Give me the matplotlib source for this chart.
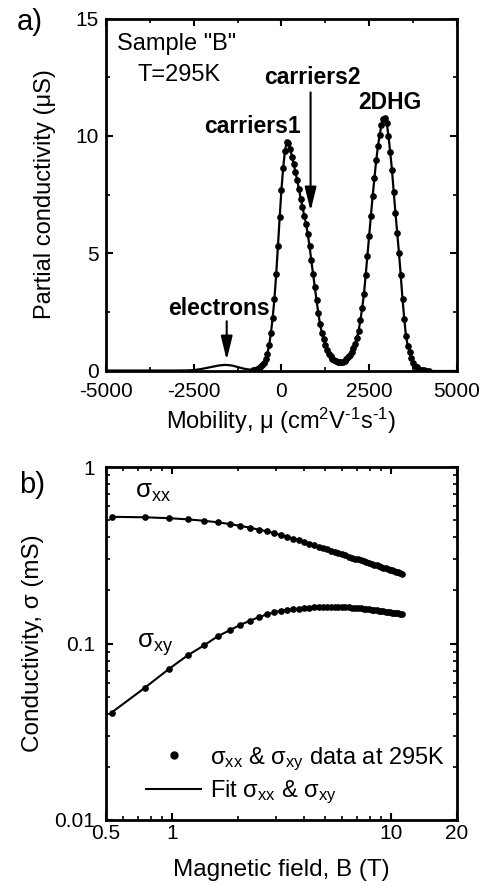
import matplotlib
matplotlib.use("Agg")
import matplotlib.pyplot as plt
from matplotlib.lines import Line2D
from matplotlib.ticker import MultipleLocator, LogLocator, NullFormatter

plt.rcParams['font.family'] = ['Liberation Sans', 'DejaVu Sans']
plt.rcParams['mathtext.fontset'] = 'custom'
plt.rcParams['mathtext.rm'] = 'Liberation Sans'
plt.rcParams['mathtext.it'] = 'Liberation Sans:italic'
plt.rcParams['mathtext.default'] = 'regular'

# a) mobility spectrum, sample "B", 295 K
mu_main = [-800, -750, -700, -650, -600, -550, -500, -450, -400, -350,
           -300, -250, -200, -150, -100, -50, 0, 50, 100, 150,
           200, 250, 300, 350, 400, 450, 500, 550, 600, 650,
           700, 750, 800, 850, 900, 950, 1000, 1050, 1100, 1150,
           1200, 1250, 1300, 1350, 1400, 1450, 1500, 1550, 1600, 1650,
           1700, 1750, 1800, 1850, 1900, 1950, 2000, 2050, 2100, 2150,
           2200, 2250, 2300, 2350, 2400, 2450, 2500, 2550, 2600, 2650,
           2700, 2750, 2800, 2850, 2900, 2950, 3000, 3050, 3100, 3150,
           3200, 3250, 3300, 3350, 3400, 3450, 3500, 3550, 3600, 3650,
           3700, 3750, 3800, 3850, 3900, 3950, 4000, 4050, 4100, 4150, 4200]
sig_main = [0.02, 0.03, 0.05, 0.08, 0.14, 0.22, 0.33, 0.47, 0.72, 1.08,
            1.60, 2.25, 3.05, 4.10, 5.30, 6.55, 7.70, 8.65, 9.35, 9.75,
            9.70, 9.45, 9.12, 8.78, 8.45, 8.10, 7.72, 7.32, 6.95, 6.60,
            6.25, 5.82, 5.30, 4.70, 4.12, 3.57, 3.00, 2.45, 1.98, 1.62,
            1.33, 1.08, 0.88, 0.72, 0.60, 0.51, 0.45, 0.41, 0.38, 0.37,
            0.37, 0.38, 0.42, 0.48, 0.56, 0.66, 0.78, 0.95, 1.15, 1.38,
            1.70, 2.15, 2.65, 3.25, 4.05, 4.90, 5.75, 6.60, 7.45, 8.20,
            8.95, 9.55, 10.05, 10.45, 10.72, 10.78, 10.55, 10.00, 9.30, 8.55,
            7.60, 6.70, 5.85, 5.00, 4.05, 3.05, 2.20, 1.45, 1.05, 0.78,
            0.52, 0.33, 0.21, 0.13, 0.07, 0.04, 0.02, 0.01, 0.0, 0.0, 0.0]
mu_elec = [-5000, -4000, -3000, -2700, -2600, -2500, -2400, -2300, -2200,
           -2100, -2000, -1900, -1800, -1700, -1600, -1500, -1400, -1300,
           -1200, -1100, -1000, -900, -800]
sig_elec = [0.0, 0.0, 0.0, 0.005, 0.01, 0.02, 0.04, 0.06, 0.09,
            0.12, 0.15, 0.18, 0.21, 0.23, 0.24, 0.23, 0.21, 0.17,
            0.13, 0.09, 0.06, 0.04, 0.02]
mu_tail = [4200, 5000]
sig_tail = [0.0, 0.0]

# b) sigma_xx, sigma_xy vs field (mS)
B = [0.53, 0.75, 0.97, 1.18, 1.40, 1.62, 1.84, 2.05, 2.27, 2.49,
     2.71, 2.93, 3.14, 3.36, 3.58, 3.80, 4.01, 4.23, 4.45, 4.67,
     4.89, 5.10, 5.32, 5.54, 5.76, 5.97, 6.19, 6.41, 6.63, 6.85,
     7.06, 7.28, 7.50, 7.72, 7.93, 8.15, 8.37, 8.59, 8.81, 9.02,
     9.24, 9.46, 9.68, 9.89, 10.11, 10.33, 10.55, 10.77, 10.98, 11.20]
sxx = [0.522, 0.519, 0.513, 0.505, 0.496, 0.486, 0.475, 0.464, 0.453, 0.442,
       0.432, 0.422, 0.412, 0.403, 0.393, 0.384, 0.376, 0.368, 0.361, 0.354,
       0.347, 0.341, 0.336, 0.330, 0.325, 0.320, 0.316, 0.311, 0.307, 0.303,
       0.300, 0.296, 0.293, 0.289, 0.286, 0.283, 0.280, 0.277, 0.274, 0.272,
       0.269, 0.267, 0.264, 0.262, 0.260, 0.257, 0.255, 0.253, 0.251, 0.249]
sxy = [0.0406, 0.0560, 0.0718, 0.0857, 0.0975, 0.1100, 0.1190, 0.1275, 0.1345, 0.1410,
       0.1460, 0.1500, 0.1530, 0.1550, 0.1565, 0.1578, 0.1590, 0.1598, 0.1605, 0.1610,
       0.1614, 0.1616, 0.1617, 0.1616, 0.1614, 0.1611, 0.1607, 0.1603, 0.1598, 0.1592,
       0.1586, 0.1580, 0.1573, 0.1566, 0.1560, 0.1553, 0.1546, 0.1540, 0.1533, 0.1527,
       0.1520, 0.1514, 0.1508, 0.1502, 0.1497, 0.1491, 0.1486, 0.1481, 0.1476, 0.1471]

fig = plt.figure(figsize=(4.84, 8.86), dpi=100)
ax1 = fig.add_axes([0.219, 0.5818, 0.725, 0.3973])
ax2 = fig.add_axes([0.219, 0.0745, 0.725, 0.3984])

for ax in (ax1, ax2):
    for s in ax.spines.values():
        s.set_linewidth(2.0)
    ax.tick_params(which='both', direction='in', top=True, right=True,
                   labelsize=15)
    ax.tick_params(which='major', length=5, width=1.5)
    ax.tick_params(which='minor', length=3, width=1.2)

# --- panel a
ax1.plot(mu_elec, sig_elec, color='k', lw=1.6)
ax1.plot(mu_tail, sig_tail, color='k', lw=1.6)
ax1.plot(mu_main, sig_main, color='k', lw=1.6, marker='o', ms=3.8)
ax1.set_xlim(-5000, 5000)
ax1.set_ylim(0, 15)
ax1.set_xticks([-5000, -2500, 0, 2500, 5000])
ax1.set_xticklabels(['-5000', '-2500', '0', '2500', '5000'])
ax1.xaxis.set_minor_locator(MultipleLocator(1250))
ax1.yaxis.set_major_locator(MultipleLocator(5))
ax1.yaxis.set_minor_locator(MultipleLocator(2.5))
ax1.tick_params(axis='x', pad=8)
ax1.tick_params(axis='y', pad=5)
ax1.set_xlabel("Mobility, μ (cm$^{2}$V$^{\\text{-}1}$s$^{\\text{-}1}$)", fontsize=17)
ax1.set_ylabel("Partial conductivity (μS)", fontsize=17)
ax1.xaxis.set_label_coords(0.5, -0.143)
ax1.xaxis.label.set_va('center')
ax1.yaxis.set_label_coords(-0.174, 0.5)
ax1.yaxis.label.set_va('center')

ax1.text(-4680, 13.9, 'Sample "B"', fontsize=17, va='center')
ax1.text(-4100, 12.6, 'T=295K', fontsize=17, va='center')
bold = dict(fontsize=16.5, fontweight='bold', ha='center', va='center')
ax1.text(-840, 10.4, 'carriers1', **bold)
ax1.text(870, 12.5, 'carriers2', **bold)
ax1.text(3090, 11.4, '2DHG', **bold)
ax1.text(-1780, 2.66, 'electrons', **bold)
arw = dict(arrowstyle='-|>,head_length=0.9,head_width=0.22', color='k',
           lw=1.5, mutation_scale=16, shrinkA=0, shrinkB=0)
ax1.annotate('', xy=(830, 6.8), xytext=(830, 11.85), arrowprops=arw)
ax1.annotate('', xy=(-1560, 0.45), xytext=(-1560, 2.1), arrowprops=arw)

# --- panel b
ax2.set_xscale('log')
ax2.set_yscale('log')
ax2.plot(B, sxx, color='k', lw=1.5)
ax2.plot(B, sxy, color='k', lw=1.5)
ax2.plot(B, sxx, ls='none', color='k', marker='o', ms=3.8)
ax2.plot(B, sxy, ls='none', color='k', marker='o', ms=3.8)
ax2.set_xlim(0.5, 20)
ax2.set_ylim(0.01, 1)
ax2.set_xticks([0.5, 1, 10, 20])
ax2.set_xticklabels(['0.5', '1', '10', '20'])
ax2.xaxis.set_minor_locator(LogLocator(base=10, subs=range(2, 10)))
ax2.xaxis.set_minor_formatter(NullFormatter())
ax2.set_yticks([0.01, 0.1, 1])
ax2.set_yticklabels(['0.01', '0.1', '1'])
ax2.yaxis.set_minor_locator(LogLocator(base=10, subs=range(2, 10)))
ax2.yaxis.set_minor_formatter(NullFormatter())
ax2.tick_params(axis='x', pad=3)
ax2.tick_params(axis='y', pad=8)
ax2.set_xlabel("Magnetic field, B (T)", fontsize=17.5)
ax2.set_ylabel("Conductivity, σ (mS)", fontsize=17.5)
ax2.xaxis.set_label_coords(0.5, -0.142)
ax2.xaxis.label.set_va('center')
ax2.yaxis.set_label_coords(-0.208, 0.5)
ax2.yaxis.label.set_va('center')

ax2.text(0.68, 0.72, "σ$_{xx}$", fontsize=18.5, va='center')
ax2.text(0.69, 0.098, "σ$_{xy}$", fontsize=18.5, va='center')

h_data = Line2D([], [], ls='none', marker='o', ms=5, color='k')
h_fit = Line2D([], [], color='k', lw=1.5)
ax2.legend([h_data, h_fit],
           ["σ$_{xx}$ & σ$_{xy}$ data at 295K", "Fit σ$_{xx}$ & σ$_{xy}$"],
           loc='lower left', bbox_to_anchor=(0.115, 0.04), frameon=False,
           fontsize=17, handlelength=2.3, handletextpad=0.4,
           labelspacing=0.25, borderpad=0, borderaxespad=0)

fig.text(0.062, 0.975, 'a)', fontsize=21, ha='center', va='center')
fig.text(0.066, 0.4526, 'b)', fontsize=21, ha='center', va='center')

fig.savefig('out.png', dpi=100)
